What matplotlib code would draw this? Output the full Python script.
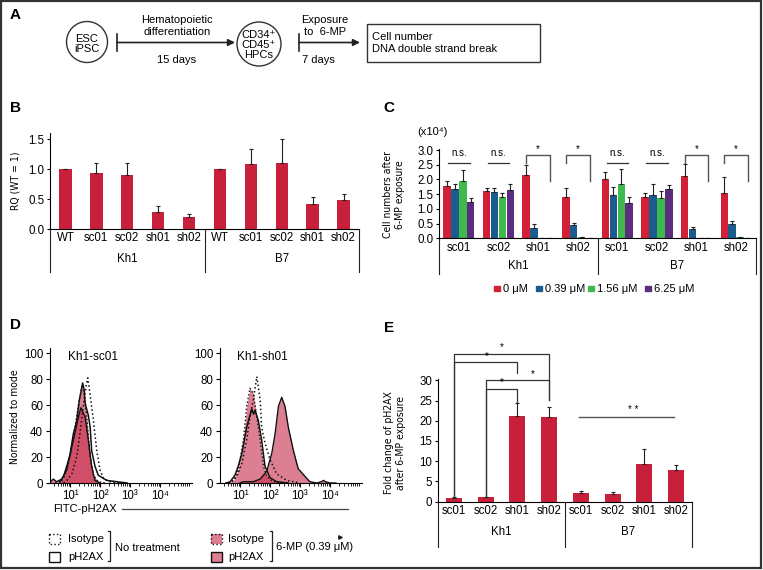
import matplotlib
matplotlib.use("Agg")
import matplotlib.pyplot as plt
import numpy as np
from matplotlib.patches import Circle, Rectangle
from matplotlib.ticker import FixedLocator, LogLocator, NullFormatter, FixedFormatter

plt.rcParams["font.family"] = ["Liberation Sans", "DejaVu Sans"]
plt.rcParams["font.size"] = 8
NARROW = dict(family=["DejaVu Sans"], fontstretch="condensed", fontsize=7.5)

# ---- data -------------------------------------------------------------
cell_lines = ["Kh1", "B7"]

# B: relative quantity (WT = 1)
rq_labels = ["WT", "sc01", "sc02", "sh01", "sh02"]
rq_mean = [1.00, 0.94, 0.91, 0.28, 0.195, 1.00, 1.09, 1.10, 0.42, 0.48]
rq_err = [0.01, 0.17, 0.20, 0.11, 0.05, 0.01, 0.25, 0.41, 0.12, 0.10]

# C: cell numbers (x10^4) after 6-MP exposure
clone_labels = ["sc01", "sc02", "sh01", "sh02"]
doses = ["0 μM", "0.39 μM", "1.56 μM", "6.25 μM"]
cells_0 = [1.78, 1.61, 2.15, 1.40, 2.00, 1.39, 2.13, 1.55]
cells_039 = [1.66, 1.57, 0.36, 0.44, 1.47, 1.47, 0.33, 0.48]
cells_156 = [1.96, 1.40, 0.02, 0.05, 1.83, 1.37, 0.02, 0.05]
cells_625 = [1.22, 1.63, 0.00, 0.01, 1.21, 1.68, 0.01, 0.01]
err_0 = [0.18, 0.09, 0.34, 0.32, 0.25, 0.14, 0.38, 0.52]
err_039 = [0.17, 0.13, 0.12, 0.07, 0.29, 0.36, 0.04, 0.12]
err_156 = [0.36, 0.13, 0.00, 0.01, 0.51, 0.25, 0.00, 0.01]
err_625 = [0.14, 0.20, 0.00, 0.00, 0.21, 0.13, 0.00, 0.00]

# E: fold change of pH2AX
fold_mean = [0.82, 1.07, 21.1, 20.9, 2.06, 1.90, 9.32, 7.83]
fold_err = [0.25, 0.17, 3.2, 2.4, 0.66, 0.41, 3.62, 1.16]

# D: flow histograms, log10(FITC-pH2AX) vs % of mode
sc01_iso_x = [0.78, 0.89, 1.06, 1.22, 1.33, 1.44, 1.53, 1.59, 1.67, 1.78, 1.89, 2.0, 2.11, 2.3, 2.7]
sc01_iso_y = [0, 2, 7, 20, 38, 59, 74, 81, 68, 48, 25, 10, 4, 1, 0]
sc01_ph_x = [0.67, 0.78, 0.89, 1.0, 1.11, 1.17, 1.22, 1.31, 1.42, 1.47, 1.50, 1.53, 1.61, 1.67, 1.72, 1.83, 1.94, 2.22, 2.9]
sc01_ph_y = [1, 5, 13, 22, 38, 43, 48, 64, 77, 72, 62, 59, 52, 43, 25, 13, 6, 2, 0]
sc01_mp_iso_x = [0.5, 0.67, 0.78, 0.94, 1.11, 1.28, 1.39, 1.47, 1.56, 1.67, 1.78, 1.94, 2.2]
sc01_mp_iso_y = [0, 1, 3, 15, 35, 60, 74, 70, 50, 20, 6, 1, 0]
sc01_mp_ph_x = [0.3, 0.44, 0.55, 0.72, 0.89, 1.11, 1.25, 1.36, 1.5, 1.61, 1.72, 1.83, 2.0]
sc01_mp_ph_y = [0, 3, 1, 3, 10, 33, 48, 58, 51, 33, 13, 2, 0]

sh01_iso_x = [0.6, 0.72, 0.89, 1.06, 1.22, 1.33, 1.44, 1.56, 1.67, 1.72, 1.83, 2.0, 2.22, 2.56, 3.0]
sh01_iso_y = [0, 1, 5, 15, 33, 51, 64, 82, 64, 43, 31, 18, 7, 2, 0]
sh01_ph_x = [0.55, 0.67, 0.83, 0.94, 1.06, 1.22, 1.39, 1.45, 1.5, 1.61, 1.72, 1.83, 2.0, 2.22, 2.6]
sh01_ph_y = [0, 1, 6, 13, 23, 43, 57, 53, 56, 48, 33, 13, 4, 1, 0]
sh01_mp_iso_x = [0.5, 0.61, 0.78, 0.94, 1.11, 1.22, 1.33, 1.44, 1.56, 1.67, 1.78, 1.89, 2.11, 2.4]
sh01_mp_iso_y = [0, 0, 2, 10, 33, 59, 73, 69, 51, 33, 13, 5, 1, 0]
sh01_mp_ph_x = [1.0, 1.11, 1.44, 1.67, 1.89, 2.06, 2.17, 2.28, 2.39, 2.5, 2.61, 2.78, 2.94, 3.17,
                3.33, 3.56, 3.72, 3.78, 3.85, 4.0, 4.2]
sh01_mp_ph_y = [0, 1, 1, 3, 9, 23, 38, 59, 66, 59, 43, 25, 11, 5, 1, 0, 1, 2, 1, 0, 0]

# ---- style --------------------------------------------------------------
W, H = 763, 570
RED = "#c81f3a"
DOSE_COLORS = ["#d42036", "#1b5c8e", "#3dba4b", "#5c2d7e"]
PINK = "#c8304f"
LINE = "#222222"


def box(l, t, r, b):
    return [l / W, 1 - b / H, (r - l) / W, (b - t) / H]


def style_bar_axes(ax):
    ax.set_facecolor("none")
    ax.spines["top"].set_visible(False)
    ax.spines["right"].set_visible(False)
    ax.tick_params(axis="x", length=0, pad=2.5, labelsize=8.3)
    ax.tick_params(axis="y", length=2.5, width=0.8, pad=1.5, labelsize=8.3)


def group_brackets(ax, edges, centers, label_y, bottom_y):
    tr = ax.get_xaxis_transform()
    for e in edges:
        ax.plot([e, e], [0, bottom_y], color=LINE, lw=0.8, transform=tr, clip_on=False)
    for c, name in zip(centers, cell_lines):
        ax.text(c, label_y, name, transform=tr, ha="center", va="center", fontsize=8.3)


fig = plt.figure(figsize=(W / 100, H / 100), dpi=100)

# overlay axes in pixel coordinates for panel A, labels and legends
ax0 = fig.add_axes([0, 0, 1, 1])
ax0.set_xlim(0, W)
ax0.set_ylim(H, 0)
ax0.axis("off")
ax0.add_patch(Rectangle((1, 1), W - 3, H - 3, fill=False, ec="#333333", lw=1.6))

for lab, (x, y) in zip("ABCDE", [(10, 15), (10, 108), (383, 108), (10, 325), (384, 328)]):
    ax0.text(x, y, lab, fontsize=11, fontweight="bold", ha="left", va="center")

# ---- A: workflow ----------------------------------------------------------
ax0.add_patch(Circle((87, 42), 20.5, fill=False, ec="#333333", lw=1))
ax0.text(87, 44, "ESC\niPSC", ha="center", va="center", fontsize=8, linespacing=1.05)
ax0.add_patch(Circle((259, 44), 22, fill=False, ec="#333333", lw=1))
ax0.text(259, 45, "CD34⁺\nCD45⁺\nHPCs", ha="center", va="center", fontsize=8, linespacing=1.0)
for tx, hx in [(117, 235), (299, 360)]:
    ax0.plot([tx, tx], [34, 51], color=LINE, lw=1.2)
    ax0.annotate("", xy=(hx, 42.5), xytext=(tx, 42.5),
                 arrowprops=dict(arrowstyle="-|>", lw=1.2, color=LINE, mutation_scale=10,
                                 shrinkA=0, shrinkB=0))
ax0.text(177, 26, "Hematopoietic\ndifferentiation", ha="center", va="center", fontsize=8,
         linespacing=1.25)
ax0.text(177, 60, "15 days", ha="center", va="center", fontsize=8)
ax0.text(325, 26, "Exposure\nto  6-MP", ha="center", va="center", fontsize=8, linespacing=1.25)
ax0.text(318, 60, "7 days", ha="center", va="center", fontsize=8)
ax0.add_patch(Rectangle((367, 24), 173, 38, fill=False, ec="#333333", lw=1))
ax0.text(372, 43, "Cell number\nDNA double strand break", ha="left", va="center", fontsize=8,
         linespacing=1.3)

# ---- B: knockdown RQ -------------------------------------------------------
axB = fig.add_axes(box(50, 229 - 1.6 * 59.8, 359, 229))
style_bar_axes(axB)
xb = np.arange(len(rq_mean))
axB.bar(xb, rq_mean, width=0.4, color=RED)
axB.errorbar(xb, rq_mean, yerr=[np.zeros(len(rq_err)), rq_err], fmt="none", ecolor=LINE,
             elinewidth=0.8, capsize=1.5, capthick=0.8)
axB.set_xlim(-0.5, 9.5)
axB.set_ylim(0, 1.6)
axB.set_yticks([0, 0.5, 1.0, 1.5])
axB.set_yticklabels(["0.0", "0.5", "1.0", "1.5"])
axB.set_xticks(xb)
axB.set_xticklabels(rq_labels * 2)
group_brackets(axB, [-0.5, 4.5, 9.5], [2, 7], -0.313, -0.45)
fig.text(15 / W, 1 - 181 / H, "RQ (WT = 1)", rotation=90, ha="center", va="center", **NARROW)

# ---- C: cell numbers ----------------------------------------------------------
axC = fig.add_axes(box(439, 238.3 - 3.05 * 29.43, 756, 238.3))
style_bar_axes(axC)
xc = np.arange(len(cells_0))
series = [cells_0, cells_039, cells_156, cells_625]
errs = [err_0, err_039, err_156, err_625]
for k, (vals, ev, col) in enumerate(zip(series, errs, DOSE_COLORS)):
    pos = xc + (k - 1.5) * 0.2
    axC.bar(pos, vals, width=0.19, color=col)
    axC.errorbar(pos, vals, yerr=[np.zeros(len(ev)), ev], fmt="none", ecolor=LINE,
                 elinewidth=0.8, capsize=1.2, capthick=0.8)
axC.set_xlim(-0.5, 7.5)
axC.set_ylim(0, 3.05)
axC.set_yticks(np.arange(0, 3.01, 0.5))
axC.set_yticklabels([f"{v:.1f}" for v in np.arange(0, 3.01, 0.5)])
axC.set_xticks(xc)
axC.set_xticklabels(clone_labels * 2)
group_brackets(axC, [-0.5, 3.5, 7.5], [1.5, 5.5], -0.305, -0.40)
for g in [0, 1, 4, 5]:
    axC.plot([g - 0.27, g + 0.27], [2.57, 2.57], color="#333333", lw=0.9)
    axC.text(g, 2.72, "n.s.", ha="center", va="bottom", fontsize=7)
for g in [2, 3, 6, 7]:
    axC.plot([g - 0.3, g - 0.3, g + 0.3, g + 0.3], [2.57, 2.83, 2.83, 1.96],
             color="#555555", lw=1.0)
    axC.text(g, 2.86, "*", ha="center", va="bottom", fontsize=7)
fig.text(394 / W, 1 - 195 / H, "Cell numbers after\n6-MP exposure", rotation=90,
         ha="center", va="center", linespacing=1.2, **NARROW)
fig.text(432 / W, 1 - 132 / H, "(x10⁴)", ha="center", va="center", fontsize=8)
for lab, col, sx in zip(doses, DOSE_COLORS, [497, 539, 591, 648]):
    ax0.add_patch(Rectangle((sx - 3, 285.5), 5.5, 5.5, color=col))
    ax0.text(sx + 6, 288.5, lab, ha="left", va="center", fontsize=8)

# ---- D: flow histograms ------------------------------------------------------
flow = [
    ("Kh1-sc01", 50, (sc01_iso_x, sc01_iso_y), (sc01_ph_x, sc01_ph_y),
     (sc01_mp_iso_x, sc01_mp_iso_y), (sc01_mp_ph_x, sc01_mp_ph_y)),
    ("Kh1-sh01", 220, (sh01_iso_x, sh01_iso_y), (sh01_ph_x, sh01_ph_y),
     (sh01_mp_iso_x, sh01_mp_iso_y), (sh01_mp_ph_x, sh01_mp_ph_y)),
]
for title, left, iso, ph, mp_iso, mp_ph in flow:
    ax = fig.add_axes(box(left, 348, left + 142, 483))
    ax.set_facecolor("none")
    ax.set_xscale("log")
    for (lx, ly), ls in [(mp_iso, ":"), (mp_ph, "-")]:
        xs = 10 ** np.array(lx)
        ax.fill_between(xs, ly, color=PINK, alpha=0.62, lw=0)
        ax.plot(xs, ly, color="#111111", lw=1.0, ls=ls)
    for (lx, ly), ls in [(iso, ":"), (ph, "-")]:
        ax.plot(10 ** np.array(lx), ly, color="#111111", lw=1.1, ls=ls)
    ax.set_xlim(10 ** 0.33, 10 ** 5.07)
    ax.set_ylim(0, 104)
    ax.spines["top"].set_visible(False)
    ax.spines["right"].set_visible(False)
    ax.set_yticks([0, 20, 40, 60, 80, 100])
    ax.xaxis.set_major_locator(FixedLocator([10, 100, 1000, 10000]))
    ax.xaxis.set_major_formatter(FixedFormatter(["10¹", "10²", "10³", "10⁴"]))
    ax.xaxis.set_minor_locator(LogLocator(base=10, subs=np.arange(2, 10), numticks=20))
    ax.xaxis.set_minor_formatter(NullFormatter())
    ax.tick_params(axis="both", which="major", length=3, width=0.8, labelsize=8.3, pad=2)
    ax.tick_params(axis="x", which="minor", length=2, width=0.6)
    ax.text(0.3, 0.93, title, transform=ax.transAxes, ha="center", va="center", fontsize=8.5)

fig.text(15 / W, 1 - 417 / H, "Normalized to mode", rotation=90, ha="center", va="center",
         **NARROW)
ax0.text(53, 509, "FITC-pH2AX", ha="left", va="center", fontsize=8)
ax0.plot([122, 348], [509, 509], color="#444444", lw=0.9)

# D legend
for y, lab, ls in [(539, "Isotype", ":"), (556.5, "pH2AX", "-")]:
    ax0.add_patch(Rectangle((48.5, y - 5), 11.5, 10, fill=False, ec="#111111", lw=1, ls=ls))
    ax0.text(68, y, lab, ha="left", va="center", fontsize=8)
    ax0.add_patch(Rectangle((210.5, y - 5), 11.5, 10, fc=PINK, alpha=0.62, lw=0))
    ax0.add_patch(Rectangle((210.5, y - 5), 11.5, 10, fill=False, ec="#111111", lw=1, ls=ls))
    ax0.text(228, y, lab, ha="left", va="center", fontsize=8)
for bx in [110, 272]:
    ax0.plot([bx - 2.5, bx, bx, bx - 2.5], [531, 531, 561, 561], color=LINE, lw=0.9)
ax0.text(115, 548, "No treatment", ha="left", va="center", fontsize=8)
ax0.text(276, 547, "6-MP (0.39 μM)", ha="left", va="center", fontsize=8)
ax0.plot([340], [537], marker=">", ms=2.5, color=LINE)

# ---- E: fold change of pH2AX ------------------------------------------------
axE = fig.add_axes(box(438, 501.7 - 30.3 * 4.047, 692, 501.7))
style_bar_axes(axE)
xe = np.arange(len(fold_mean))
axE.bar(xe, fold_mean, width=0.5, color=RED)
axE.errorbar(xe, fold_mean, yerr=[np.zeros(len(fold_err)), fold_err], fmt="none",
             ecolor=LINE, elinewidth=0.8, capsize=1.5, capthick=0.8)
axE.set_xlim(-0.5, 7.5)
axE.set_ylim(0, 30.3)
axE.set_yticks(range(0, 31, 5))
axE.set_xticks(xe)
axE.set_xticklabels(clone_labels * 2)
group_brackets(axE, [-0.5, 3.5, 7.5], [1.5, 5.5], -0.247, -0.37)
brackets = [  # (left, right, left-bottom, height, right-bottom, star-x)
    (0, 3, 1.1, 36.5, 25.2, 1.5),
    (0, 2, 1.1, 34.4, 31.8, 1.05),
    (1, 3, 1.3, 29.95, 25.2, 2.48),
    (1, 2, 1.3, 27.8, 24.75, 1.52),
]
for l, r, lb, top, rb, sx in brackets:
    axE.plot([l, l, r, r], [lb, top, top, rb], color="#333333", lw=0.9, clip_on=False)
    axE.text(sx, top + 0.4, "*", ha="center", va="bottom", fontsize=7, clip_on=False)
axE.plot([4 - 0.07, 7 - 0.06], [20.9, 20.9], color="#555555", lw=1.0)
axE.text(5.65, 21.3, "* *", ha="center", va="bottom", fontsize=7)
fig.text(395 / W, 1 - 443 / H, "Fold change of pH2AX\nafter 6-MP exposure", rotation=90,
         ha="center", va="center", linespacing=1.2, **NARROW)

fig.savefig("out.png", dpi=100)
